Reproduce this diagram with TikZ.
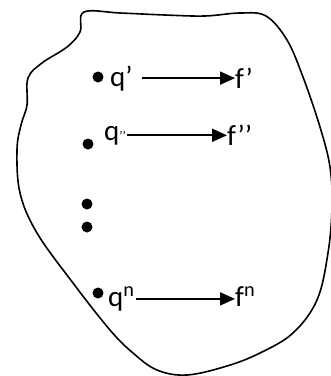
\documentclass[tikz,border=0pt]{standalone}
\usepackage{fontspec}
\setmainfont{Carlito}
\usetikzlibrary{arrows.meta}
\begin{document}
\begin{tikzpicture}[
            x=1pt, y=-1pt,
            font=\fontsize{29}{31}\selectfont,
            pt/.style={circle, fill, inner sep=0pt, minimum size=11pt},
            lbl/.style={inner sep=0pt, anchor=base west},
            map/.style={-{Triangle[length=15pt,width=13pt]}, line width=1.8pt}
        ]
        \useasboundingbox (0,0) rectangle (331,376);

        % The Region
        \draw[line width=1.6pt] plot[smooth cycle, tension=0.6] coordinates {
            (84,12) (120,13) (165,15) (205,16) (240,13) (266,16) (287,40) (303,77)
            (320,127) (330,167) (332,207) (328,253) (317,300) (293,333) (260,353)
            (227,366) (187,375) (157,370) (133,353) (110,330) (73,283) (37,233)
            (20,193) (17,150) (21,125) (27,105) (28,78) (42,63) (67,47) (80,32)};

        % Points and Images
        \node[pt] (p1) at (98,77) {}; \node[lbl] (q1) at (110,86) {q’}; \node[lbl] (f1) at (235,88) {f’};
        \node[pt] (p2) at (88,144) {}; \node[lbl] (q2) at (104,140) {q{\fontsize{13}{13}\selectfont ’’}}; \node[lbl] (f2) at (227,145) {f’’};
        \node[pt] (d1) at (87,204) {}; \node[pt] (d2) at (87,227) {};
        \node[pt] (pn) at (98,293) {}; \node[lbl] (qn) at (108,306) {q\textsuperscript{n}}; \node[lbl] (fn) at (235,306) {f\textsuperscript{n}};

        % Maps
        \draw[map, shorten <=9pt] (q1.east) -- (q1.east -| f1.west);
        \draw[map, shorten <=1pt] (q2.east) -- (q2.east -| f2.west);
        \draw[map, shorten <=1pt] (qn.east) -- (qn.east -| fn.west);

    \end{tikzpicture}
\end{document}
